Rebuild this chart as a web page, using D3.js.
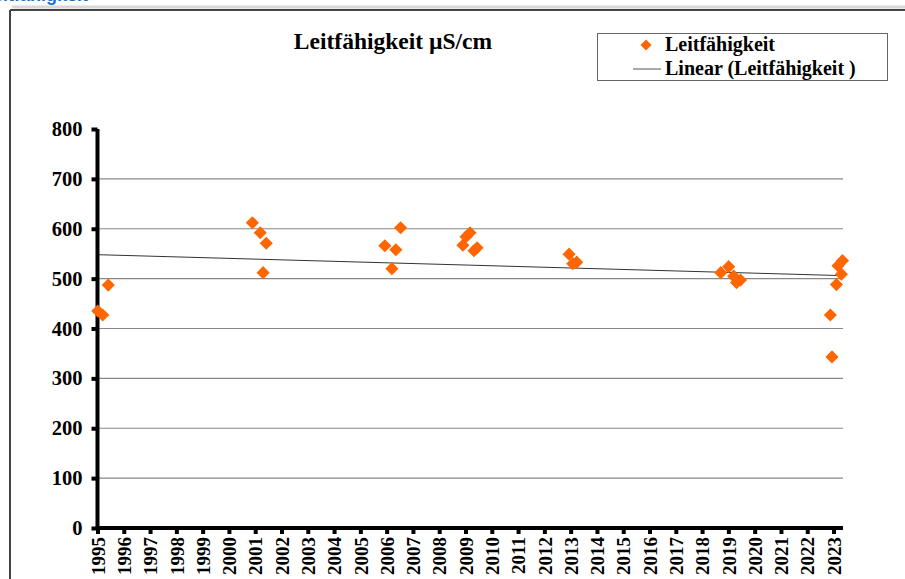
<!DOCTYPE html>
<html><head><meta charset="utf-8">
<script src="https://cdn.jsdelivr.net/npm/d3@7"></script>
<style>body{margin:0;background:#fff;} svg{display:block;} .serif{font-family:"Liberation Serif","Tinos","Times New Roman","DejaVu Serif",serif;font-weight:bold;}</style>
</head><body>
<script>
// data (decimal year, µS/cm)
const years = [1995.01,1995.20,1995.41, 2000.89,2001.19,2001.30,2001.42, 2005.93,2006.20,2006.35,2006.53,
  2008.90,2009.02,2009.17,2009.32,2009.44, 2012.94,2013.08,2013.23,
  2018.71,2019.01,2019.20,2019.31,2019.46, 2022.88,2022.94,2023.11,2023.17,2023.30,2023.34];
const values = [435,427,487, 612,592,512,571, 566,520,558,602,
  567,584,592,556,562, 549,530,533,
  512,524,505,492,497, 427,343,488,526,509,536];
const yearTicks = d3.range(1995, 2024);
const valueTicks = [0,100,200,300,400,500,600,700,800];
const trendYears = [1995, 2023.34];
const trendValues = [548, 506];
const title = "Leitfähigkeit µS/cm";
const legendLabels = ["Leitfähigkeit", "Linear (Leitfähigkeit )"];

const W = 905, H = 579;
const svg = d3.select("body").append("svg").attr("width", W).attr("height", H);

// page header remnants
svg.append("text").attr("x", 88).attr("y", 1).attr("text-anchor","end")
  .style("font-family","'Liberation Sans',Arial,sans-serif").attr("font-weight","bold")
  .attr("font-size",18).attr("fill","#1a73c8").text("Leitfähigkeit");
svg.append("line").attr("x1",12).attr("x2",W).attr("y1",7).attr("y2",7).attr("stroke","#d8d8d8").attr("stroke-width",3);
svg.append("line").attr("x1",10).attr("x2",W).attr("y1",10).attr("y2",10).attr("stroke","#444").attr("stroke-width",2);
svg.append("line").attr("x1",10).attr("x2",10).attr("y1",10).attr("y2",H).attr("stroke","#444").attr("stroke-width",2);

const x = d3.scaleLinear().domain([1995, 2023.36]).range([97.5, 843]);
const y = d3.scaleLinear().domain([0, 800]).range([528, 129]);

// gridlines
svg.append("g").selectAll("line").data(valueTicks.filter(v => v > 0 && v < 800)).join("line")
  .attr("x1", x(1995)).attr("x2", x(2023.36))
  .attr("y1", d => y(d)).attr("y2", d => y(d))
  .attr("stroke", "#888").attr("stroke-width", 1.2);

// trend line
svg.append("line")
  .attr("x1", x(trendYears[0])).attr("y1", y(trendValues[0]))
  .attr("x2", x(trendYears[1])).attr("y2", y(trendValues[1]))
  .attr("stroke", "#333").attr("stroke-width", 1);

// y axis
const yAxis = d3.axisLeft(y).tickValues(valueTicks).tickSize(6).tickPadding(8);
const gy = svg.append("g").attr("transform", `translate(${x(1995)},0)`).call(yAxis);
gy.attr("font-family", null).attr("font-size", null);
gy.select(".domain").attr("stroke","#000").attr("stroke-width",4).attr("d", `M0,${y(800)}V${y(0)+2}`);
gy.selectAll(".tick line").attr("stroke","#000").attr("stroke-width",4);
gy.selectAll(".tick text").attr("class","serif").style("font-size","20.5px").attr("fill","#000").attr("x",-15);

// x axis
const xAxis = d3.axisBottom(x).tickValues(yearTicks).tickSize(6).tickPadding(6).tickFormat(d3.format("d"));
const gx = svg.append("g").attr("transform", `translate(0,${y(0)})`).call(xAxis);
gx.attr("font-family", null).attr("font-size", null);
gx.select(".domain").attr("stroke","#000").attr("stroke-width",4).attr("d", `M${x(1995)-2},0H${x(2023.36)}`);
gx.selectAll(".tick line").attr("stroke","#000").attr("stroke-width",4);
gx.selectAll(".tick text").attr("class","serif").style("font-size","19px").attr("fill","#000")
  .attr("text-anchor","end").attr("transform","rotate(-90)").attr("x",-9).attr("y",0).attr("dy","0.35em");

// points
const diamond = d3.symbol().type(d3.symbolDiamond2).size(110);
svg.append("g").selectAll("path").data(years.map((yr,i)=>[yr, values[i]])).join("path")
  .attr("d", diamond).attr("transform", d => `translate(${x(d[0])},${y(d[1])})`)
  .attr("fill", "#ff6600");

// title
svg.append("text").attr("class","serif").attr("x", 393).attr("y", 49).attr("text-anchor","middle")
  .style("font-size","23.5px").text(title);

// legend
const lg = svg.append("g");
lg.append("rect").attr("x",597.5).attr("y",33.5).attr("width",290).attr("height",47)
  .attr("fill","#fff").attr("stroke","#666").attr("stroke-width",1);
lg.append("path").attr("d", d3.symbol().type(d3.symbolDiamond2).size(80)).attr("transform","translate(646,45)").attr("fill","#ff6600");
lg.append("line").attr("x1",633).attr("x2",661).attr("y1",69).attr("y2",69).attr("stroke","#555").attr("stroke-width",1);
lg.selectAll("text.l").data(legendLabels).join("text").attr("class","l serif")
  .attr("x",665).attr("y",(d,i)=> 51 + i*24)
  .style("font-size","20px").text(d=>d);
</script>
</body></html>
